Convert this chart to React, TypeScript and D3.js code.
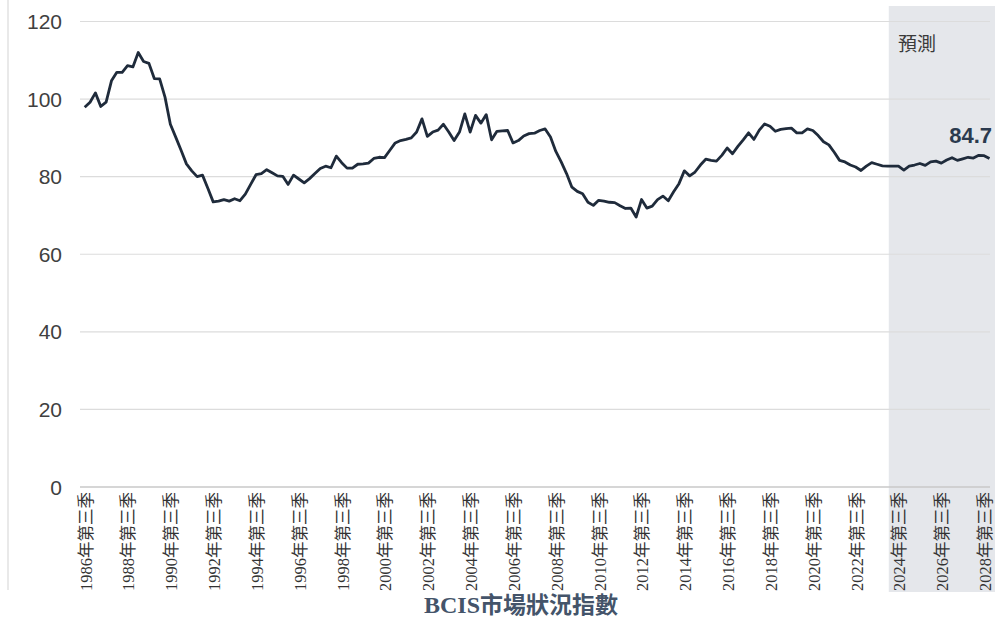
import React from "react";
import * as d3 from "d3";

// BCIS market conditions index, quarterly from 1986 Q3 to 2028 Q4
const values: number[] = [
  97.9, 99.2, 101.6, 98.1, 99.2, 104.7, 106.9, 106.9, 108.6, 108.3,
  112.0, 109.7, 109.2, 105.3, 105.2, 100.5, 93.5, 90.2, 86.8, 83.3,
  81.5, 80.0, 80.4, 77.0, 73.5, 73.7, 74.1, 73.7, 74.3, 73.8,
  75.5, 78.0, 80.5, 80.8, 81.8, 81.0, 80.2, 80.1, 78.0, 80.4,
  79.4, 78.4, 79.5, 80.8, 82.1, 82.7, 82.3, 85.3, 83.6, 82.2,
  82.2, 83.2, 83.3, 83.5, 84.7, 85.0, 84.9, 86.8, 88.7, 89.3,
  89.6, 90.0, 91.5, 94.9, 90.4, 91.5, 92.0, 93.5, 91.5, 89.3,
  91.5, 96.2, 91.5, 95.8, 93.8, 96.0, 89.5, 91.7, 91.8, 91.9,
  88.7, 89.3, 90.5, 91.1, 91.2, 91.9, 92.3, 90.2, 86.5, 83.8,
  80.8, 77.3, 76.2, 75.6, 73.4, 72.6, 73.9, 73.7, 73.4, 73.3,
  72.5, 71.8, 71.9, 69.6, 74.1, 71.9, 72.4, 74.1, 75.0, 73.8,
  76.1, 78.2, 81.5, 80.2, 81.2, 83.0, 84.5, 84.2, 84.0, 85.5,
  87.4, 85.9, 87.8, 89.5, 91.3, 89.6, 92.0, 93.6, 93.0, 91.7,
  92.2, 92.4, 92.5, 91.3, 91.3, 92.3, 91.9, 90.6, 89.0, 88.2,
  86.3, 84.2, 83.8, 83.0, 82.5, 81.6, 82.7, 83.6, 83.2, 82.8,
  82.7, 82.7, 82.7, 81.7, 82.7, 83.0, 83.4, 82.9, 83.8, 84.0,
  83.5, 84.3, 84.9, 84.2, 84.6, 85.0, 84.8, 85.5, 85.4, 84.7,
];

const tickLabels: string[] = [
  "1986年第三季", "1988年第三季", "1990年第三季", "1992年第三季",
  "1994年第三季", "1996年第三季", "1998年第三季", "2000年第三季",
  "2002年第三季", "2004年第三季", "2006年第三季", "2008年第三季",
  "2010年第三季", "2012年第三季", "2014年第三季", "2016年第三季",
  "2018年第三季", "2020年第三季", "2022年第三季", "2024年第三季",
  "2026年第三季", "2028年第三季",
];
const tickIndexStep = 8; // one label every 8 quarters
const forecastStartIndex = 150; // 2024 Q1
const yTicks: number[] = [0, 20, 40, 60, 80, 100, 120];
const forecastLabel = "預測";
const lastValueLabel = "84.7";
const titleLatin = "BCIS";
const titleCJK = "市場狀況指數";

const W = 995;
const H = 623;

export default function App() {
  const x = d3.scaleLinear().domain([0, values.length - 1]).range([84.7, 989.5]);
  const y = d3.scaleLinear().domain([0, 120]).range([487, 21.5]);
  const line = d3
    .line<number>()
    .x((_, i) => x(i))
    .y((d) => y(d));

  const shadeX = x(forecastStartIndex) + 1;

  return (
    <svg
      width={W}
      height={H}
      style={{ position: "absolute", left: 0, top: 0, background: "#fff" }}
    >
      <rect x={shadeX} y={6} width={W - shadeX} height={586} fill="#e5e7eb" />
      <line x1={8} x2={8} y1={0} y2={590} stroke="#e2e2e2" strokeWidth={1.5} />
      {yTicks.map((t) => (
        <g key={t}>
          <line
            x1={80}
            x2={990}
            y1={y(t)}
            y2={y(t)}
            stroke={t === 0 ? "#c8c8c8" : "#dcdcdc"}
            strokeWidth={t === 0 ? 1.5 : 1.2}
          />
          <text
            x={62}
            y={y(t)}
            dy="0.36em"
            textAnchor="end"
            fontFamily="Liberation Sans, Arial, sans-serif"
            fontSize={21}
            fill="#404040"
          >
            {t}
          </text>
        </g>
      ))}
      {tickLabels.map((lab, k) => {
        const xi = x(k * tickIndexStep) + 1;
        return (
          <text
            key={lab}
            transform={`translate(${xi},492) rotate(-90)`}
            textAnchor="end"
            dy="0.36em"
            fontFamily="Liberation Serif, 'Times New Roman', 'Noto Sans CJK TC', serif"
            fontSize={16.5}
            fill="#333"
          >
            {lab}
          </text>
        );
      })}
      <path d={line(values) || ""} fill="none" stroke="#1f2b3b" strokeWidth={2.8} strokeLinejoin="round" />
      <text
        x={898}
        y={51}
        fontFamily="'Noto Sans CJK TC', sans-serif"
        fontSize={19}
        fill="#3a3a3a"
      >
        {forecastLabel}
      </text>
      <text
        x={992}
        y={143}
        textAnchor="end"
        fontFamily="Liberation Sans, Arial, sans-serif"
        fontWeight="bold"
        fontSize={22}
        fill="#2b3a4e"
      >
        {lastValueLabel}
      </text>
      <text x={521} y={613} textAnchor="middle" fill="#44546a" fontWeight="bold">
        <tspan fontFamily="Liberation Serif, 'Times New Roman', serif" fontSize={24}>
          {titleLatin}
        </tspan>
        <tspan fontFamily="'Noto Sans CJK TC', sans-serif" fontSize={23}>
          {titleCJK}
        </tspan>
      </text>
    </svg>
  );
}
